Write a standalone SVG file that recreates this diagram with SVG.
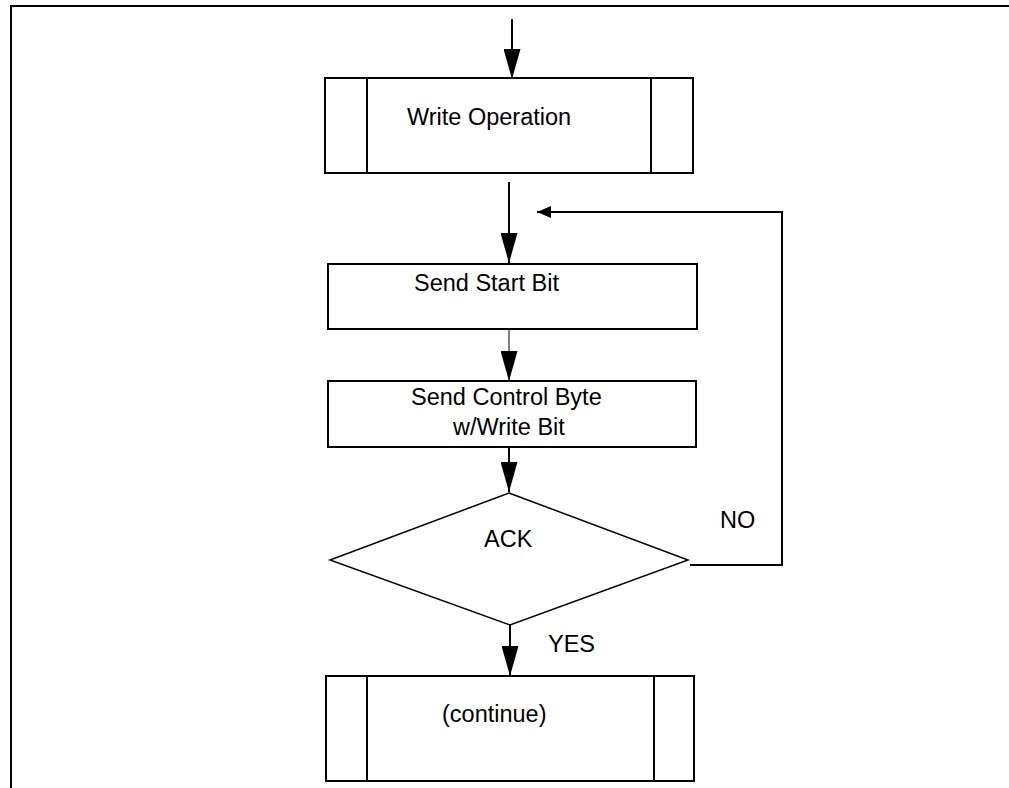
<svg xmlns="http://www.w3.org/2000/svg" width="1009" height="788" viewBox="0 0 1009 788">
<style>
.box{fill:#fff;stroke:#000;stroke-width:2}
.div{stroke:#000;stroke-width:2}
.dia{fill:#fff;stroke:#000;stroke-width:1.5}
.ln{fill:none;stroke:#000;stroke-width:2}
.thin{fill:none;stroke:#000;stroke-width:1}
text{font-family:"Liberation Sans",Arial,sans-serif;font-size:23.5px;fill:#000}
</style>
<defs>
<marker id="big" markerUnits="userSpaceOnUse" markerWidth="30" markerHeight="17" refX="30" refY="8.5" orient="auto" viewBox="0 0 30 17"><path d="M0,0 L30,8.5 L0,17 z" fill="#000"/></marker>
<marker id="small" markerUnits="userSpaceOnUse" markerWidth="14" markerHeight="12" refX="14" refY="6" orient="auto" viewBox="0 0 14 12"><path d="M0,0 L14,6 L0,12 z" fill="#000"/></marker>
</defs>
<g id="frame"><path class="ln" d="M11,788 V6 H1009"/></g>
<g id="connectors">
<path class="ln" d="M512,19 V79" marker-end="url(#big)"/>
<path class="ln" d="M509,182 V263" marker-end="url(#big)"/>
<path class="thin" d="M509,329 V381" marker-end="url(#big)"/>
<path class="ln" d="M509,443 V492" marker-end="url(#big)"/>
<path class="ln" d="M510,625 V676" marker-end="url(#big)"/>
<path class="ln" d="M690,565 H782 V212 H537" marker-end="url(#small)"/>
</g>
<g id="write-operation">
<rect class="box" x="325" y="78" width="368" height="95"/>
<line class="div" x1="367" y1="78" x2="367" y2="173"/>
<line class="div" x1="651" y1="78" x2="651" y2="173"/>
<text x="407" y="125">Write Operation</text>
</g>
<g id="send-start-bit">
<rect class="box" x="328" y="264" width="369" height="65"/>
<text x="414" y="291">Send Start Bit</text>
</g>
<g id="send-control-byte">
<rect class="box" x="328" y="381" width="368" height="66"/>
<text x="411" y="405">Send Control Byte</text>
<text x="453" y="435">w/Write Bit</text>
</g>
<g id="ack">
<polygon class="dia" points="509,493 688,560 510,625 330,560"/>
<text x="484" y="547">ACK</text>
</g>
<g id="labels">
<text x="720" y="528">NO</text>
<text x="548" y="652">YES</text>
</g>
<g id="continue">
<rect class="box" x="326" y="676" width="368" height="105"/>
<line class="div" x1="367" y1="676" x2="367" y2="781"/>
<line class="div" x1="654" y1="676" x2="654" y2="782"/>
<text x="442" y="722">(continue)</text>
</g>
</svg>
